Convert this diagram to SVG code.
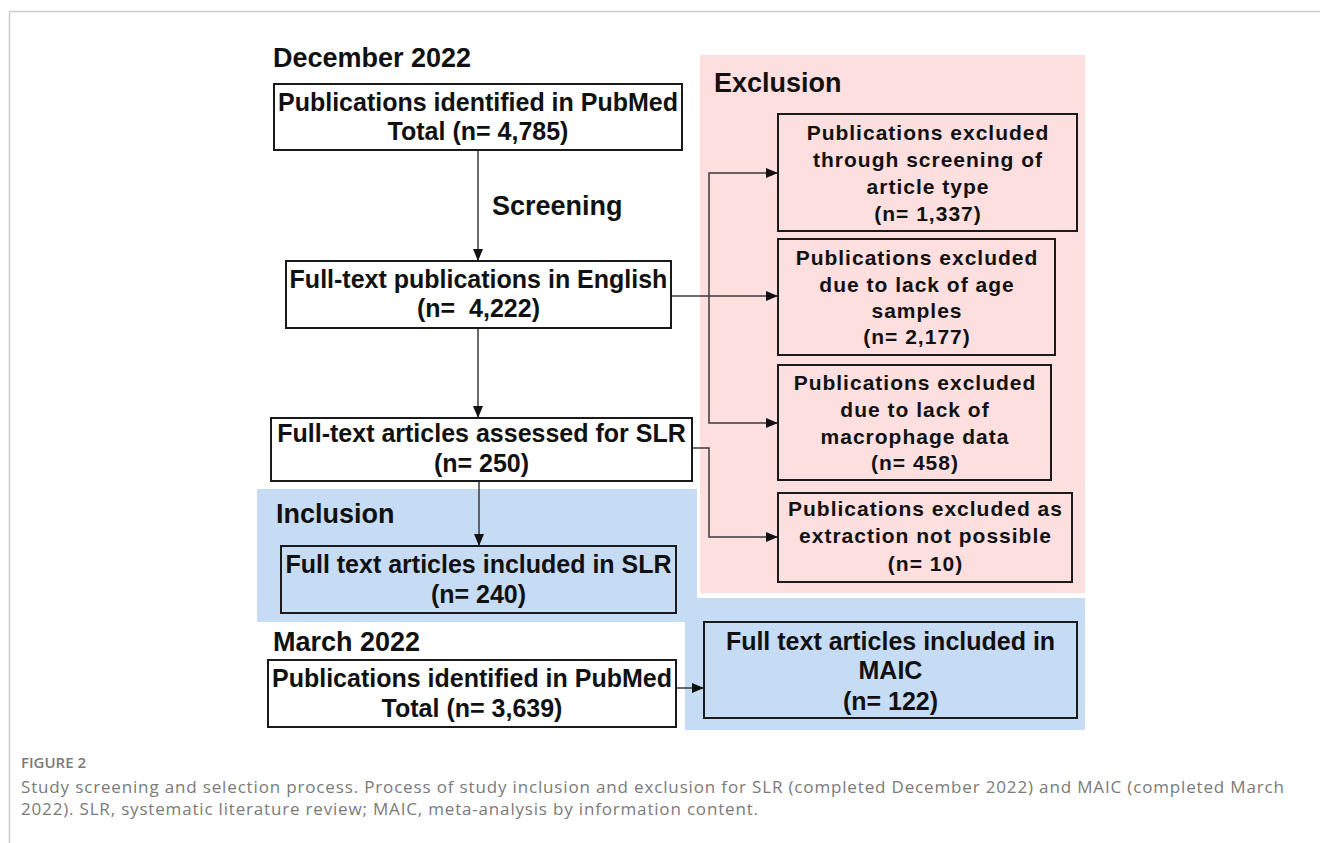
<svg xmlns="http://www.w3.org/2000/svg" width="1320" height="843" viewBox="0 0 1320 843">
<style>
.t{font-family:"Liberation Sans",Arial,sans-serif;font-weight:bold;fill:#111;}
.b{font-size:25px;text-anchor:middle;}
.h{font-size:27px;}
.e{font-size:21px;letter-spacing:1px;text-anchor:middle;}
.box{stroke:#1a1a1a;stroke-width:2;}
.w{fill:#fff;}
.n{fill:none;}
.c{fill:none;stroke:#3a3a3a;stroke-width:1.5;}
.cap{font-family:"Open Sans","Noto Sans",sans-serif;fill:#7a7a7a;}
</style>
<defs>
<marker id="ah" viewBox="0 0 12 10" refX="12" refY="5" markerWidth="12" markerHeight="10" markerUnits="userSpaceOnUse" orient="auto-start-reverse">
<path d="M0 0L12 5L0 10z" fill="#111"/>
</marker>
</defs>
<rect width="1320" height="843" fill="#fff"/>
<path d="M9.5 843V11.5H1320" fill="none" stroke="#cccccc" stroke-width="1.5"/>
<g id="regions">
<rect x="700" y="55" width="385" height="538" fill="#fddfe0"/>
<rect x="257" y="489" width="440" height="133" fill="#c6dcf5"/>
<rect x="685" y="598" width="400" height="132" fill="#c6dcf5"/>
</g>
<g id="headers">
<text class="t h" x="273" y="67">December 2022</text>
<text class="t h" x="714" y="92">Exclusion</text>
<text class="t h" x="276" y="523">Inclusion</text>
<text class="t h" x="273" y="651">March 2022</text>
<text class="t h" x="492" y="215">Screening</text>
</g>
<g id="connectors">
<path class="c" d="M478 150V261" marker-end="url(#ah)"/>
<path class="c" d="M478 328V418" marker-end="url(#ah)"/>
<path class="c" d="M479 481V546" marker-end="url(#ah)"/>
<path class="c" d="M671 296H778" marker-end="url(#ah)"/>
<path class="c" d="M778 173H709V423H778" marker-start="url(#ah)" marker-end="url(#ah)"/>
<path class="c" d="M692 448H709V537H778" marker-end="url(#ah)"/>
<path class="c" d="M676 688H704" marker-end="url(#ah)"/>
</g>
<g id="n1">
<rect class="box w" x="274" y="84" width="408" height="66"/>
<text class="t b" x="478" y="111">Publications identified in PubMed</text>
<text class="t b" x="478" y="140">Total (n= 4,785)</text>
</g>
<g id="n2">
<rect class="box w" x="286" y="261" width="385" height="67"/>
<text class="t b" x="478.5" y="288">Full-text publications in English</text>
<text class="t b" x="478.5" y="317" xml:space="preserve" style="white-space:pre">(n=  4,222)</text>
</g>
<g id="n3">
<rect class="box w" x="271" y="418" width="421" height="63"/>
<text class="t b" x="481.5" y="442">Full-text articles assessed for SLR</text>
<text class="t b" x="481.5" y="472">(n= 250)</text>
</g>
<g id="n4">
<rect class="box n" x="281" y="546" width="395" height="67"/>
<text class="t b" x="478.5" y="573">Full text articles included in SLR</text>
<text class="t b" x="478.5" y="603">(n= 240)</text>
</g>
<g id="n5">
<rect class="box w" x="268" y="660" width="408" height="67"/>
<text class="t b" x="472" y="687">Publications identified in PubMed</text>
<text class="t b" x="472" y="717">Total (n= 3,639)</text>
</g>
<g id="n6">
<rect class="box n" x="704" y="622" width="373" height="96"/>
<text class="t b" x="890.5" y="650">Full text articles included in</text>
<text class="t b" x="890.5" y="679">MAIC</text>
<text class="t b" x="890.5" y="710">(n= 122)</text>
</g>
<g id="e1">
<rect class="box n" x="778" y="114" width="299" height="117"/>
<text class="t e" x="928" y="140">Publications excluded</text>
<text class="t e" x="928" y="167">through screening of</text>
<text class="t e" x="928" y="194">article type</text>
<text class="t e" x="928" y="221">(n= 1,337)</text>
</g>
<g id="e2">
<rect class="box n" x="778" y="239" width="277" height="116"/>
<text class="t e" x="917" y="265">Publications excluded</text>
<text class="t e" x="917" y="292">due to lack of age</text>
<text class="t e" x="917" y="318">samples</text>
<text class="t e" x="917" y="344">(n= 2,177)</text>
</g>
<g id="e3">
<rect class="box n" x="778" y="365" width="273" height="115"/>
<text class="t e" x="915" y="390">Publications excluded</text>
<text class="t e" x="915" y="417">due to lack of</text>
<text class="t e" x="915" y="444">macrophage data</text>
<text class="t e" x="915" y="470">(n= 458)</text>
</g>
<g id="e4">
<rect class="box n" x="778" y="493" width="294" height="89"/>
<text class="t e" x="925.5" y="516">Publications excluded as</text>
<text class="t e" x="925.5" y="543">extraction not possible</text>
<text class="t e" x="925.5" y="571">(n= 10)</text>
</g>
<g id="caption">
<text class="cap" x="21" y="768" font-size="15" font-weight="600" fill="#808080">FIGURE 2</text>
<text class="cap" x="21" y="793" font-size="17" textLength="1263" lengthAdjust="spacing">Study screening and selection process. Process of study inclusion and exclusion for SLR (completed December 2022) and MAIC (completed March</text>
<text class="cap" x="21" y="815" font-size="17" textLength="737" lengthAdjust="spacing">2022). SLR, systematic literature review; MAIC, meta-analysis by information content.</text>
</g>
</svg>
